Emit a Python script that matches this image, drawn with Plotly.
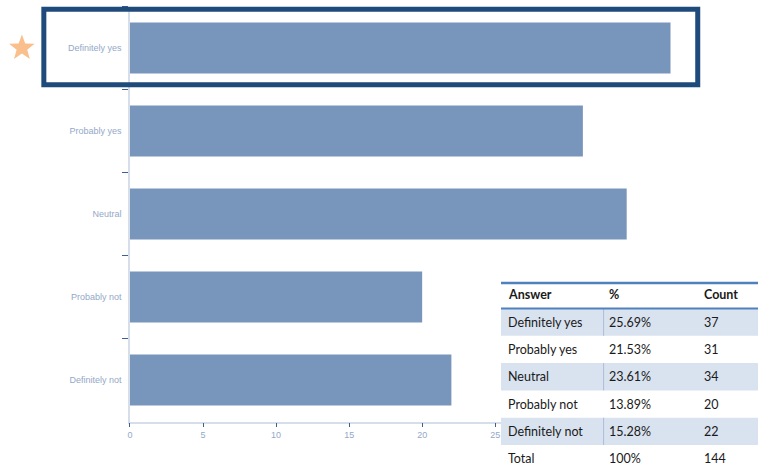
import math
import plotly.graph_objects as go

W, H = 758, 469

answers = ["Definitely yes", "Probably yes", "Neutral", "Probably not", "Definitely not"]
counts = [37, 31, 34, 20, 22]
percents = ["25.69%", "21.53%", "23.61%", "13.89%", "15.28%"]
total_label = "Total"
total_pct = "100%"
total_count = "144"
header = ["Answer", "%", "Count"]
x_ticks = [0, 5, 10, 15, 20, 25, 30, 35, 40]


def px(x):
    return x / W


def py(y):
    return 1 - y / H


BAR = "#7895bb"
LABEL = "#94a8c8"
TICK = "#3d5f94"
AXIS = "#d6deea"

fig = go.Figure(go.Bar(
    x=counts, y=answers, orientation="h",
    marker=dict(color=BAR, line=dict(width=0)),
    hoverinfo="x+y",
))

fig.update_layout(
    width=W, height=H,
    margin=dict(l=0, r=0, t=0, b=0),
    paper_bgcolor="white", plot_bgcolor="white",
    bargap=0.385,
    showlegend=False,
    font=dict(family="Liberation Sans, Arial, sans-serif"),
)

fig.update_xaxes(
    domain=[px(127.5), px(743.5)], range=[0, 42],
    tickvals=x_ticks, ticks="outside", ticklen=4, tickwidth=1, tickcolor=TICK,
    tickfont=dict(size=9, color=LABEL),
    showgrid=False, zeroline=False,
    showline=True, linecolor=AXIS, linewidth=1.5,
)
fig.update_yaxes(
    domain=[py(421.5), py(6.5)],
    categoryorder="array", categoryarray=answers, autorange="reversed",
    ticks="outside", tickson="boundaries", ticklen=6, tickwidth=1.2, tickcolor=TICK,
    tickfont=dict(size=9, color=LABEL), ticklabelstandoff=5,
    showgrid=False, zeroline=False,
    showline=True, linecolor=AXIS, linewidth=1.5,
)

shapes = []
annotations = []

# Highlight box around first bar
shapes.append(dict(
    type="rect", xref="paper", yref="paper",
    x0=px(41), x1=px(697.5), y0=py(84.7), y1=py(9.3),
    line=dict(color="#1f4a7c", width=5), fillcolor="rgba(0,0,0,0)", layer="above",
))

# Star marker
cx, cy, R, r = 19, 48, 13.5, 5.6
pts = []
for i in range(10):
    ang = -math.pi / 2 + i * math.pi / 5
    rad = R if i % 2 == 0 else r
    pts.append((cx + rad * math.cos(ang), cy + rad * math.sin(ang)))
path = "M " + " L ".join(f"{px(x):.5f},{py(y):.5f}" for x, y in pts) + " Z"
shapes.append(dict(type="path", xref="paper", yref="paper", path=path,
                   fillcolor="#f9bf8d", line=dict(width=0), layer="above"))

# Table
TX0, TX1 = 500, 758
col_x = [505, 606, 702]
TFONT = dict(family="Lato, Liberation Sans, sans-serif", size=12.5, color="#1a1a1a")
shapes.append(dict(type="rect", xref="paper", yref="paper",
                   x0=px(TX0), x1=px(TX1), y0=py(469), y1=py(283),
                   fillcolor="rgba(255,255,255,0.9)", line=dict(width=0), layer="above"))
shapes.append(dict(type="line", xref="paper", yref="paper",
                   x0=px(TX0), x1=px(TX1), y0=py(283), y1=py(283),
                   line=dict(color="#4f81bd", width=2.5), layer="above"))

HEAD_Y = 294.5
annotations += [dict(x=px(col_x[i]), y=py(HEAD_Y), xref="paper", yref="paper",
                     text=f"<b>{header[i]}</b>", showarrow=False, xanchor="left", yanchor="middle",
                     font=TFONT)
                for i in range(3)]

ROW0, RH = 308.5, 27.3
for i, (a, p, c) in enumerate(zip(answers, percents, counts)):
    top = ROW0 + i * RH
    if i % 2 == 0:
        shapes.append(dict(type="rect", xref="paper", yref="paper",
                           x0=px(TX0), x1=px(TX1), y0=py(top + RH), y1=py(top),
                           fillcolor="rgba(214,224,238,0.92)", line=dict(width=0), layer="above"))
        shapes.append(dict(type="line", xref="paper", yref="paper",
                           x0=px(603), x1=px(603), y0=py(top + RH), y1=py(top),
                           line=dict(color="#a9bcd8", width=1), layer="above"))
    for j, t in enumerate([a, p, str(c)]):
        annotations.append(dict(x=px(col_x[j]), y=py(top + RH / 2), xref="paper", yref="paper",
                                text=t, showarrow=False, xanchor="left", yanchor="middle",
                                font=TFONT))

shapes.append(dict(type="line", xref="paper", yref="paper",
                   x0=px(TX0), x1=px(TX1), y0=py(ROW0), y1=py(ROW0),
                   line=dict(color="#4f81bd", width=2), layer="above"))

top = ROW0 + 5 * RH
for j, t in enumerate([total_label, total_pct, total_count]):
    annotations.append(dict(x=px(col_x[j]), y=py(top + RH / 2), xref="paper", yref="paper",
                            text=t, showarrow=False, xanchor="left", yanchor="middle",
                            font=TFONT))

fig.update_layout(shapes=shapes, annotations=annotations)
fig.write_html("out.html")
